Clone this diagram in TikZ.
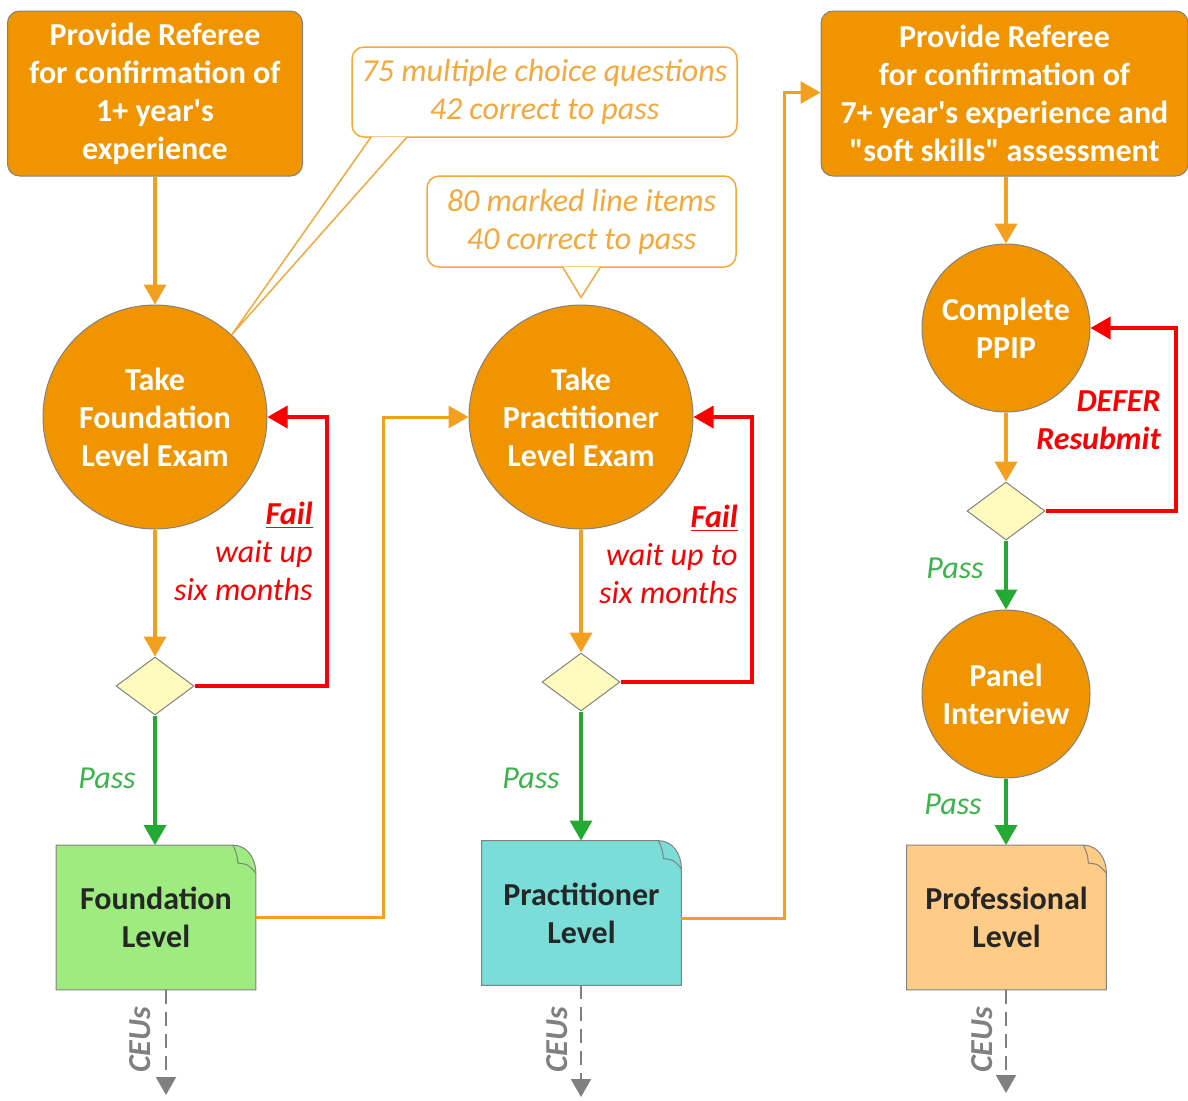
\documentclass[tikz,border=0pt]{standalone}
\usepackage{fontspec}
\setmainfont{Carlito}[Ligatures=TeXOff]
\usepackage{tikz}
\usetikzlibrary{arrows.meta, shapes, positioning, calc}
\usepackage{xcolor}
\pgfdeclarelayer{background}
\pgfsetlayers{background,main}
\newcommand{\flowfont}{\fontsize{16}{19}\selectfont}
\definecolor{examorange}{RGB}{240,148,0}
\definecolor{linkorange}{RGB}{244,160,30}
\definecolor{noteorange}{RGB}{245,168,60}
\definecolor{failred}{RGB}{250,0,0}
\definecolor{passgreen}{RGB}{34,170,50}
\definecolor{passtext}{RGB}{60,180,75}
\definecolor{decisionyellow}{RGB}{255,250,190}
\definecolor{foundationgreen}{RGB}{158,236,128}
\definecolor{practitionercyan}{RGB}{122,221,216}
\definecolor{professionalpeach}{RGB}{255,204,136}
\definecolor{ceugray}{RGB}{128,128,128}
\definecolor{bordergray}{RGB}{130,130,130}
\definecolor{leveltext}{RGB}{38,38,38}
\tikzset{refereebox/.style={rectangle, rounded corners=6pt, fill=examorange, draw=bordergray, line width=0.5pt, text=white, font=\flowfont\bfseries, align=center, minimum height=82.5pt, inner sep=0pt},examcircle/.style={circle, fill=examorange, draw=bordergray, line width=0.5pt, text=white, font=\flowfont\bfseries, align=center, inner sep=0pt}}
\tikzset{decision/.style={diamond, fill=decisionyellow, draw=bordergray, line width=0.5pt, minimum width=39pt, minimum height=29pt, inner sep=0pt},levelnode/.style={rectangle, draw=none, minimum width=99.5pt, minimum height=72pt, font=\flowfont\bfseries, text=leveltext, align=center}}
\tikzset{notebox/.style={rectangle, rounded corners=6pt, fill=white, draw=noteorange, line width=0.75pt, text=noteorange, font=\flowfont\itshape, align=center, inner sep=0pt}}
\newcommand{\levelsheet}[2]{%
    \begin{pgfonlayer}{background}
    \filldraw[fill=#2, draw=bordergray, line width=0.5pt] (#1.south west) -- (#1.north west) -- ($(#1.north east)+(-23,0)$) .. controls ($(#1.north east)+(-9,0)$) and ($(#1.north east)+(0,13)$) .. ($(#1.north east)+(0,28)$) -- (#1.south east) -- cycle;
    \draw[bordergray, line width=0.5pt] ($(#1.north east)+(-23,0)$) .. controls ($(#1.north east)+(-19,9)$) .. ($(#1.north east)+(-18,18)$) .. controls ($(#1.north east)+(-8,19)$) .. ($(#1.north east)+(0,28)$);
    \end{pgfonlayer}}

\begin{document}
\begin{tikzpicture}[
        x=0.5pt, y=-0.5pt,
        flowarrow/.style={draw=linkorange, line width=1.8pt, -{Triangle[length=10pt, width=11pt]}},
        linkarrow/.style={draw=linkorange, line width=1.5pt, -{Triangle[length=10pt, width=11pt]}},
        failarrow/.style={draw=failred, line width=1.8pt, -{Triangle[length=10pt, width=11pt]}},
        passarrow/.style={draw=passgreen, line width=1.6pt, -{Triangle[length=10pt, width=11pt]}},
        ceuarrow/.style={draw=ceugray, line width=1pt, dash pattern=on 7pt off 4pt, -{Triangle[length=9pt, width=10pt]}},
        passlabel/.style={text=passtext, font=\flowfont\itshape},
        faillabel/.style={text=failred, font=\flowfont\itshape, align=right, anchor=east, inner sep=0pt},
        ceulabel/.style={text=ceugray, font=\flowfont\bfseries\itshape, rotate=90},
    ]
        \useasboundingbox (0,0) rectangle (1188,1100);
        % Referee boxes
        \node[refereebox, minimum width=147.5pt] (ref1) at (155,93.5) {Provide Referee\\for confirmation of\\1+ year's\\experience};
        \node[refereebox, minimum width=183.5pt] (ref3) at (1004.5,93.5) {Provide Referee\\for confirmation of\\7+ year's experience and\\"soft skills" assessment};
        % Exams
        \node[examcircle, minimum size=112pt] (exam1) at (155,417) {Take\\Foundation\\Level Exam};
        \node[examcircle, minimum size=112pt] (exam2) at (581,417) {Take\\Practitioner\\Level Exam};
        \node[examcircle, minimum size=84pt] (ppip) at (1006,328) {Complete\\PPIP};
        \node[examcircle, minimum size=84pt] (panel) at (1006,694) {Panel\\Interview};
        % Decisions
        \node[decision] (dec1) at (155,686) {};
        \node[decision] (dec2) at (581,682) {};
        \node[decision] (dec3) at (1006,511) {};
        % Levels
        \node[levelnode] (lv1) at (156,917.5) {Foundation\\Level};
        \node[levelnode] (lv2) at (581.5,913) {Practitioner\\Level};
        \node[levelnode] (lv3) at (1006.5,917.5) {Professional\\Level};
        \levelsheet{lv1}{foundationgreen}
        \levelsheet{lv2}{practitionercyan}
        \levelsheet{lv3}{professionalpeach}
        % Notes
        \node[notebox, minimum width=192.5pt, minimum height=45pt] (mcq) at (544.5,92) {75 multiple choice questions\\42 correct to pass};
        \filldraw[draw=noteorange, fill=white, line width=0.75pt] ($(mcq.south west)+(20,-1)$) -- (exam1.47) -- ($(mcq.south west)+(56,-1)$);
        \node[notebox, minimum width=154.5pt, minimum height=45.5pt] (items) at (581.5,221.5) {80 marked line items\\40 correct to pass};
        \filldraw[draw=noteorange, fill=white, line width=0.75pt] ($(items.south)+(-19,-1)$) -- ($(exam2.north)+(0,-7)$) -- ($(items.south)+(19,-1)$);
        % Corners
        \coordinate (retry1) at (327,417);
        \coordinate (retry2) at (752,417);
        \coordinate (retry3) at (1176,328);
        \coordinate (link1) at (383,417);
        \coordinate (link2) at (784,92.5);
        \coordinate (cpd1) at (166,1095);
        \coordinate (cpd2) at (581,1097);
        \coordinate (cpd3) at (1006,1093);
        % Foundation column
        \draw[flowarrow] (ref1) -- (exam1);
        \draw[flowarrow] (exam1) -- (dec1);
        \draw[passarrow] (dec1) -- (dec1 |- lv1.north);
        \draw[failarrow] (dec1.east) -| (retry1) -- (exam1.east);
        \draw[linkarrow] (lv1.east) -| (link1) -- (exam2.west);
        % Practitioner column
        \draw[flowarrow] (exam2) -- (dec2);
        \draw[passarrow] (dec2) -- (dec2 |- lv2.north);
        \draw[failarrow] (dec2.east) -| (retry2) -- (exam2.east);
        \draw[linkarrow] ([yshift=-2.5pt]lv2.east) -| (link2) -- (ref3.west |- link2);
        % Professional column
        \draw[flowarrow] (ref3.south -| ppip) -- (ppip);
        \draw[flowarrow] (ppip) -- (dec3);
        \draw[failarrow] (dec3.east) -| (retry3) -- (ppip.east);
        \draw[passarrow] (dec3) -- (panel);
        \draw[passarrow] (panel) -- (panel |- lv3.north);
        % CEUs
        \foreach \n in {1,2,3} {
            \draw[ceuarrow] (lv\n.south -| cpd\n) -- (cpd\n);
        }
        \node[ceulabel] (ceu1) at (140,1040) {CEUs};
        \node[ceulabel] (ceu2) at (557,1040) {CEUs};
        \node[ceulabel] (ceu3) at (982,1040) {CEUs};
        % Labels
        \node[passlabel] (pass1) at (107,778) {Pass};
        \node[passlabel] (pass2) at (531,778) {Pass};
        \node[passlabel] (pass3) at (955,568) {Pass};
        \node[passlabel] (pass4) at (953,804) {Pass};
        \node[faillabel] (fail1) at (313,551) {\underline{\textbf{Fail}}\\wait up\\six months};
        \node[faillabel] (fail2) at (738,554) {\underline{\textbf{Fail}}\\wait up to\\six months};
        \node[faillabel, font=\flowfont\bfseries\itshape] (defer) at (1161,420) {DEFER\\Resubmit};
    \end{tikzpicture}
\end{document}
